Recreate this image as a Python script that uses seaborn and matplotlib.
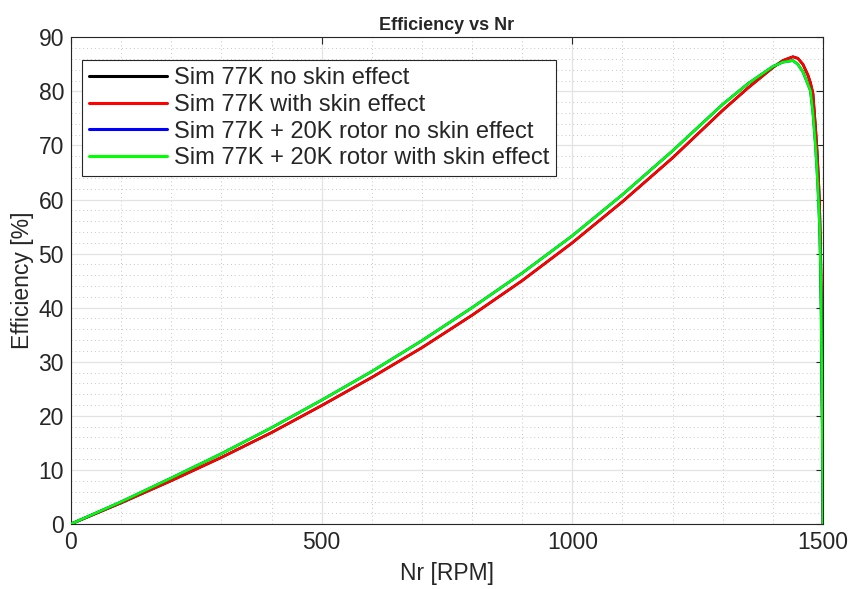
import numpy as np
import pandas as pd
import matplotlib
matplotlib.use("Agg")
import matplotlib.pyplot as plt
import seaborn as sns
from matplotlib.ticker import MultipleLocator

# Speed points (RPM)
nr = [0, 100, 200, 300, 400, 500, 600, 700, 800, 900, 1000, 1100, 1200,
      1300, 1350, 1400, 1420, 1440, 1450, 1460, 1470, 1475, 1480, 1485,
      1488, 1491, 1493, 1495, 1496, 1497, 1498, 1499, 1500]

# Efficiency [%]
eff_77k_skin = [0, 3.9, 8.0, 12.3, 16.9, 21.9, 27.1, 32.6, 38.6, 45.0, 52.0,
                59.6, 67.7, 76.5, 80.6, 84.4, 85.7, 86.4, 86.1, 85.0, 83.0,
                81.6, 79.6, 73.5, 69.3, 64.0, 59.5, 52.0, 46.0, 37.0, 27.0,
                15.0, 0]
eff_77k_noskin = eff_77k_skin  # overlaps the red curve
eff_20k_skin = [0, 4.1, 8.5, 13.0, 17.8, 22.9, 28.2, 33.9, 40.0, 46.4, 53.3,
                60.9, 69.0, 77.6, 81.4, 84.6, 85.4, 85.7, 85.0, 83.6, 81.3,
                80.1, 76.0, 70.0, 65.5, 60.0, 55.5, 48.0, 42.0, 33.0, 24.0,
                13.0, 0]
eff_20k_noskin = eff_20k_skin  # overlaps the green curve

labels = ["Sim 77K no skin effect", "Sim 77K with skin effect",
          "Sim 77K + 20K rotor no skin effect", "Sim 77K + 20K rotor with skin effect"]
series = [eff_77k_noskin, eff_77k_skin, eff_20k_noskin, eff_20k_skin]
colors = ["black", "red", "blue", "#00ff00"]

sns.set_theme(style="white")
plt.rcParams['font.family'] = ['Liberation Sans', 'DejaVu Sans']

fig = plt.figure(figsize=(8.53, 5.89), dpi=100)
ax = fig.add_axes([0.0832, 0.1104, 0.8816, 0.8263])

for lab, vals, col in zip(labels, series, colors):
    df = pd.DataFrame({"Nr": nr, "Eff": vals})
    sns.lineplot(data=df, x="Nr", y="Eff", color=col, lw=1.9, label=lab,
                 ax=ax, sort=False, estimator=None, zorder=3)

ax.set_xlim(0, 1500)
ax.set_ylim(0, 90)
ax.xaxis.set_major_locator(MultipleLocator(500))
ax.yaxis.set_major_locator(MultipleLocator(10))
ax.xaxis.set_minor_locator(MultipleLocator(100))
ax.yaxis.set_minor_locator(MultipleLocator(2))

ax.grid(True, which="major", color="#e3e3e3", lw=0.9, ls="-", zorder=0)
ax.grid(True, which="minor", color="#c8c8c8", lw=0.7, ls=(0, (1, 3)), zorder=0)
ax.set_axisbelow(True)

edge = "#262626"
fs = 16.5
for sp in ax.spines.values():
    sp.set_color(edge)
    sp.set_linewidth(0.8)
ax.tick_params(which="major", direction="in", length=5, width=0.8, color=edge,
               top=True, right=True, labelsize=fs, labelcolor=edge, pad=5)
ax.tick_params(which="minor", length=0)

ax.set_title("Efficiency vs Nr", fontsize=13, fontweight="bold", pad=5)
ax.set_xlabel("Nr [RPM]", fontsize=fs, color=edge, labelpad=6)
ax.set_ylabel("Efficiency [%]", fontsize=fs, color=edge, labelpad=3)

leg = ax.legend(loc="upper left", bbox_to_anchor=(0.015, 0.953), fontsize=17,
                frameon=True, fancybox=False, framealpha=1, edgecolor=edge,
                handlelength=3.3, labelspacing=0.2, borderpad=0.3,
                handletextpad=0.28, borderaxespad=0)
leg.get_frame().set_linewidth(0.8)
for line in leg.get_lines():
    line.set_linewidth(2.2)

fig.savefig("out.png", dpi=100)
